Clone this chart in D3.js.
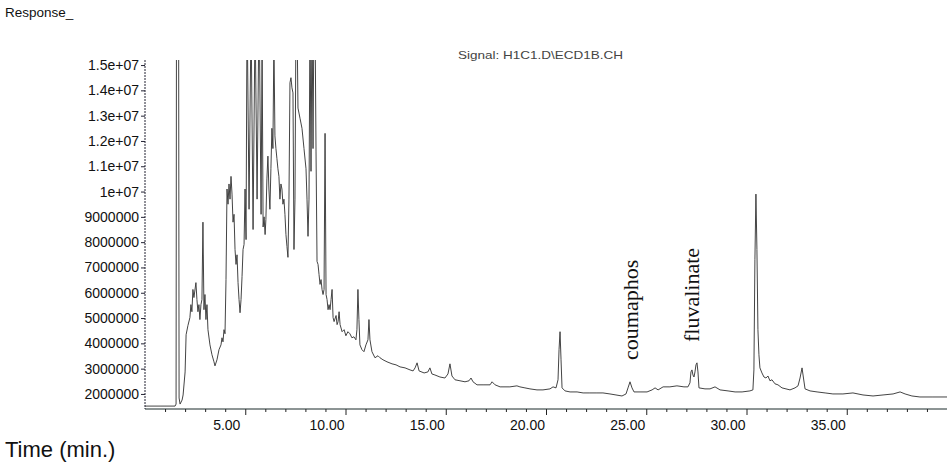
<!DOCTYPE html>
<html>
<head>
<meta charset="utf-8">
<script src="https://cdn.jsdelivr.net/npm/d3@7"></script>
<style>
  html, body { margin: 0; padding: 0; background: #fff; }
  svg { display: block; }
</style>
</head>
<body>
<svg id="chart" width="949" height="466"></svg>
<script>
// ---------- data ----------
const times = [
  0, 0.75, 1.50, 1.55, 1.60, 1.65, 1.70, 1.75, 1.85, 1.90, 2.00, 2.05, 2.14, 2.24, 2.29, 2.34, 2.39, 2.44, 2.54, 2.59,
  2.64, 2.69, 2.74, 2.79, 2.84, 2.89, 2.94, 2.99, 3.04, 3.09, 3.14, 3.24, 3.34, 3.44, 3.49, 3.59, 3.69, 3.79, 3.84, 3.89,
  3.94, 3.99, 4.04, 4.09, 4.14, 4.19, 4.24, 4.29, 4.34, 4.39, 4.44, 4.49, 4.54, 4.59, 4.64, 4.69, 4.74, 4.79, 4.84, 4.89,
  4.94, 4.99, 5.04, 5.09, 5.19, 5.29, 5.39, 5.49, 5.59, 5.69, 5.79, 5.84, 5.89, 5.94, 5.99, 6.03, 6.08, 6.13, 6.18, 6.23,
  6.28, 6.33, 6.38, 6.43, 6.48, 6.53, 6.58, 6.63, 6.68, 6.73, 6.78, 6.83, 6.88, 6.93, 6.98, 7.03, 7.08, 7.13, 7.18, 7.23,
  7.28, 7.33, 7.38, 7.43, 7.48, 7.53, 7.58, 7.63, 7.73, 7.83, 7.93, 8.03, 8.08, 8.13, 8.18, 8.23, 8.28, 8.33, 8.38, 8.43,
  8.48, 8.53, 8.58, 8.63, 8.68, 8.73, 8.78, 8.83, 8.88, 8.93, 8.98, 9.03, 9.08, 9.13, 9.18, 9.23, 9.28, 9.33, 9.38, 9.43,
  9.53, 9.58, 9.63, 9.68, 9.73, 9.83, 9.93, 10.02, 10.12, 10.22, 10.32, 10.42, 10.52, 10.57, 10.62, 10.67, 10.72, 10.82, 10.92, 11.02,
  11.12, 11.17, 11.22, 11.32, 11.47, 11.62, 11.72, 11.87, 12.07, 12.32, 12.52, 12.72, 12.97, 13.22, 13.37, 13.47, 13.57, 13.67, 13.92, 14.11,
  14.21, 14.31, 14.46, 14.71, 14.96, 15.11, 15.21, 15.31, 15.46, 15.71, 15.96, 16.16, 16.26, 16.36, 16.56, 16.86, 17.21, 17.31, 17.46, 17.71,
  18.20, 18.55, 18.70, 18.95, 19.20, 19.55, 19.85, 20.20, 20.35, 20.50, 20.60, 20.65, 20.70, 20.75, 20.80, 20.95, 21.20, 21.55, 21.85, 22.19,
  22.54, 22.84, 23.19, 23.49, 23.79, 23.99, 24.09, 24.19, 24.29, 24.39, 24.69, 25.04, 25.29, 25.44, 25.59, 25.84, 26.18, 26.53, 26.88, 27.08,
  27.18, 27.23, 27.28, 27.33, 27.38, 27.43, 27.48, 27.53, 27.58, 27.63, 27.93, 28.18, 28.43, 28.68, 29.08, 29.43, 29.78, 30.17, 30.32, 30.37,
  30.42, 30.47, 30.52, 30.57, 30.62, 30.67, 30.77, 30.87, 30.97, 31.07, 31.17, 31.27, 31.42, 31.57, 31.77, 31.97, 32.17, 32.42, 32.57, 32.67,
  32.77, 32.82, 32.92, 33.17, 33.52, 33.92, 34.31, 34.81, 35.31, 35.81, 36.31, 36.81, 37.31, 37.66, 37.91, 38.25, 38.65, 39.30, 40.00
];
const responses = [
  1520000, 1520000, 1520000, 1600000, 40000000, 35000000, 1840000, 1600000, 1760000, 1960000, 2870000, 4340000, 4700000, 5020000, 5530000, 5250000, 6130000, 5810000, 6400000, 5730000,
  5250000, 5530000, 4940000, 5530000, 5730000, 8790000, 5330000, 5930000, 4940000, 5530000, 4540000, 3940000, 3550000, 3270000, 3110000, 3350000, 3750000, 3940000, 4220000, 4060000,
  4540000, 4380000, 6520000, 10100000, 9500000, 10300000, 9700000, 10600000, 9900000, 8790000, 9100000, 7710000, 7120000, 7500000, 6400000, 5730000, 5210000, 5730000, 6640000, 7710000,
  7910000, 10100000, 8100000, 17500000, 9300000, 17000000, 8500000, 17000000, 9700000, 17500000, 9100000, 16000000, 8600000, 9000000, 8300000, 8900000, 10500000, 11400000, 10100000, 9300000,
  10900000, 12500000, 11700000, 16000000, 12200000, 11700000, 11300000, 10900000, 10600000, 9700000, 10300000, 10100000, 9500000, 9700000, 9100000, 8300000, 7830000, 7400000, 9700000, 14300000,
  14500000, 14100000, 13900000, 7710000, 9700000, 17000000, 17000000, 13300000, 12900000, 12500000, 11700000, 10900000, 9700000, 8230000, 9700000, 17000000, 10800000, 17000000, 11700000, 17500000,
  17000000, 11600000, 7240000, 7120000, 6720000, 6330000, 6520000, 6130000, 5930000, 6130000, 12300000, 5930000, 5730000, 5330000, 5530000, 5330000, 5730000, 6130000, 5020000, 4860000,
  5100000, 4740000, 4860000, 5250000, 4740000, 4460000, 4540000, 4300000, 4460000, 4380000, 4220000, 4260000, 4140000, 4540000, 6130000, 4940000, 3940000, 3750000, 3670000, 3940000,
  4140000, 4940000, 4140000, 3670000, 3430000, 3510000, 3430000, 3350000, 3270000, 3190000, 3150000, 3070000, 3030000, 2950000, 2910000, 3030000, 3230000, 2910000, 2830000, 2870000,
  3030000, 2790000, 2750000, 2670000, 2630000, 2790000, 3190000, 2710000, 2560000, 2520000, 2480000, 2520000, 2630000, 2480000, 2360000, 2360000, 2360000, 2480000, 2360000, 2280000,
  2280000, 2320000, 2280000, 2240000, 2200000, 2160000, 2160000, 2200000, 2280000, 2240000, 2560000, 3750000, 4460000, 3350000, 2240000, 2120000, 2080000, 2080000, 2040000, 2040000,
  2040000, 2040000, 2000000, 1960000, 1920000, 2000000, 2240000, 2480000, 2240000, 2080000, 2080000, 2080000, 2160000, 2240000, 2160000, 2280000, 2280000, 2320000, 2280000, 2280000,
  2440000, 2870000, 2950000, 2750000, 2670000, 2870000, 3150000, 3230000, 2870000, 2240000, 2200000, 2200000, 2280000, 2160000, 2120000, 2080000, 2080000, 2120000, 2160000, 2950000,
  7320000, 9900000, 7710000, 4540000, 3550000, 3030000, 2830000, 2670000, 2630000, 2710000, 2520000, 2560000, 2400000, 2360000, 2240000, 2200000, 2160000, 2240000, 2320000, 2630000,
  3030000, 2750000, 2200000, 2120000, 2080000, 2040000, 2000000, 2000000, 2040000, 1960000, 1920000, 1960000, 2000000, 2080000, 2000000, 1920000, 1880000, 1880000, 1880000
];

const xMajorTicks = [5, 10, 15, 20, 25, 30, 35];
const xTickLabels = ["5.00", "10.00", "15.00", "20.00", "25.00", "30.00", "35.00"];
const xMinorTicks = [1,2,3,4,6,7,8,9,11,12,13,14,16,17,18,19,21,22,23,24,26,27,28,29,31,32,33,34,36,37,38,39];
const yTicks = [2000000, 3000000, 4000000, 5000000, 6000000, 7000000, 8000000, 9000000,
                10000000, 11000000, 12000000, 13000000, 14000000, 15000000];
const yTickLabels = ["2000000", "3000000", "4000000", "5000000", "6000000", "7000000", "8000000", "9000000",
                     "1e+07", "1.1e+07", "1.2e+07", "1.3e+07", "1.4e+07", "1.5e+07"];

const annotationNames = ["coumaphos", "fluvalinate"];
const annotationTimes = [24.19, 27.53];

// ---------- layout ----------
const SANS = "'Liberation Sans', Arial, sans-serif";
const SERIF = "'Liberation Serif', 'Times New Roman', serif";
const svg = d3.select("#chart");
const pLeft = 145, pRight = 947, pTop = 60, pBottom = 409;

const x = d3.scaleLinear().domain([0, 40]).range([pLeft, pRight]);
const y = d3.scaleLinear().domain([1405000, 15200000]).range([pBottom, pTop]);

svg.append("defs").append("clipPath").attr("id", "plotclip")
  .append("rect").attr("x", pLeft).attr("y", pTop).attr("width", pRight - pLeft).attr("height", pBottom - pTop);

// titles
svg.append("text").attr("x", 5).attr("y", 17).style("font-family", SANS).style("font-size", "13.5px")
  .attr("fill", "#111").text("Response_");
svg.append("text").attr("x", 458).attr("y", 59).style("font-family", SANS).style("font-size", "11.5px")
  .attr("fill", "#444").attr("textLength", 165).attr("lengthAdjust", "spacingAndGlyphs")
  .text("Signal: H1C1.D\\ECD1B.CH");
svg.append("text").attr("x", 5).attr("y", 457).style("font-family", SANS).style("font-size", "22px")
  .attr("fill", "#111").text("Time (min.)");

// trace
const pts = times.map((t, i) => [t, responses[i]]);
const line = d3.line().x(d => x(d[0])).y(d => y(d[1]));
svg.append("path").datum(pts)
  .attr("clip-path", "url(#plotclip)")
  .attr("fill", "none").attr("stroke", "#3a3a3a").attr("stroke-width", 0.95)
  .attr("d", line);

// y axis
const yAxis = svg.append("g").attr("transform", `translate(${pLeft},0)`)
  .call(d3.axisLeft(y).tickValues(yTicks).tickFormat((d, i) => yTickLabels[i]).tickSize(4).tickPadding(2));
yAxis.select(".domain").attr("d", `M0,${pTop}V${pBottom}`).attr("stroke", "#223").attr("stroke-dasharray", "2,1");
yAxis.selectAll("text").style("font-family", SANS).style("font-size", "14px").attr("fill", "#111");
yAxis.selectAll(".tick line").attr("stroke", "#223");

// x axis: minor ticks
const xMinor = svg.append("g").attr("transform", `translate(0,${pBottom})`)
  .call(d3.axisBottom(x).tickValues(xMinorTicks).tickFormat("").tickSize(3));
xMinor.select(".domain").attr("d", `M${pLeft},0H${pRight}`).attr("stroke", "#1b2a2a");
xMinor.selectAll(".tick line").attr("stroke", "#222");

// x axis: major ticks + labels
const xMajor = svg.append("g").attr("transform", `translate(0,${pBottom})`)
  .call(d3.axisBottom(x).tickValues(xMajorTicks).tickFormat((d, i) => xTickLabels[i]).tickSize(6).tickPadding(5));
xMajor.select(".domain").remove();
xMajor.selectAll(".tick line").attr("stroke", "#222");
xMajor.selectAll("text").style("font-family", SANS).style("font-size", "14px").attr("fill", "#111").attr("dx", -19);

// annotations (rotated, serif)
const annOffsets = [[8, 360], [2, 342]];
svg.selectAll(".ann").data(annotationNames).enter().append("text")
  .attr("class", "ann")
  .attr("transform", (d, i) => `translate(${x(annotationTimes[i]) + annOffsets[i][0]},${annOffsets[i][1]}) rotate(-90)`)
  .style("font-family", SERIF).style("font-size", "22px").attr("fill", "#111")
  .text(d => d);
</script>
</body>
</html>
